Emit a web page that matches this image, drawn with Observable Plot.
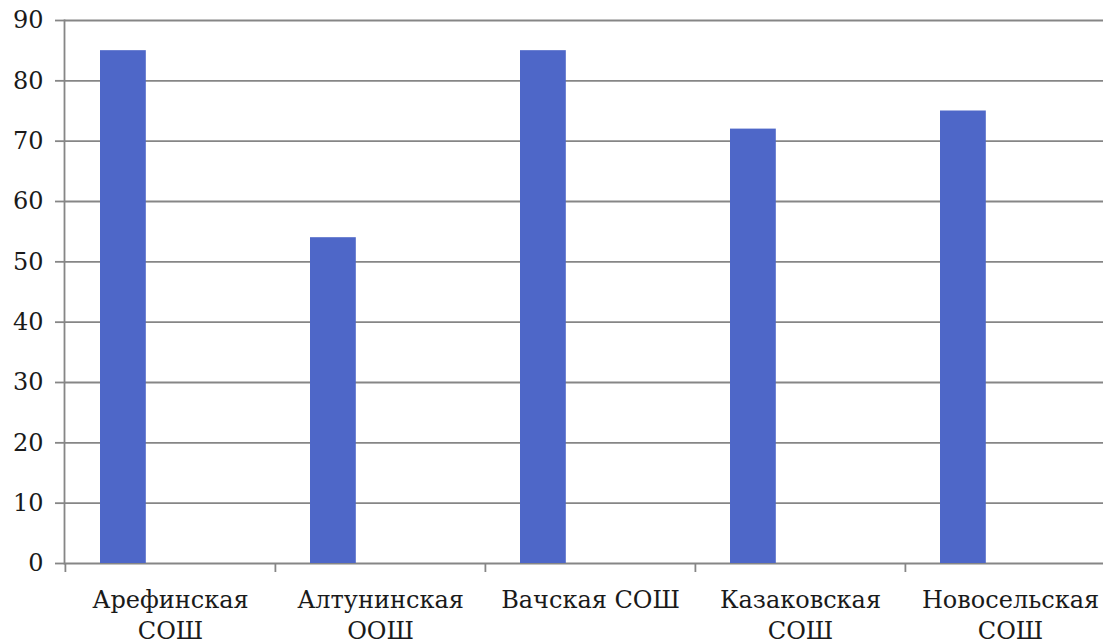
<!DOCTYPE html>
<html>
<head>
<meta charset="utf-8">
<script src="https://cdn.jsdelivr.net/npm/d3@7"></script>
<script src="https://cdn.jsdelivr.net/npm/@observablehq/plot@0.6"></script>
<style>
  html, body { margin: 0; padding: 0; background: #fff; overflow: hidden; }
</style>
</head>
<body>
<div id="chart"></div>
<script>
const schools = ["Арефинская\nСОШ", "Алтунинская\nООШ", "Вачская СОШ", "Казаковская\nСОШ", "Новосельская\nСОШ"];
const values = [85, 54, 85, 72, 75];
const yTicks = [0, 10, 20, 30, 40, 50, 60, 70, 80, 90];

const data = schools.map((s, i) => ({school: s, value: values[i]}));

const W = 1103, H = 642;
const left = 64, plotRight = 1115;
const band = (plotRight - left) / schools.length;
const gridColor = "#868686";
const font = "'DejaVu Serif', serif";

const chart = Plot.plot({
  width: W,
  height: H,
  marginTop: 20,
  marginBottom: 79,
  marginLeft: left,
  marginRight: 0,
  style: {fontFamily: font, fontSize: "24px", color: "#1a1a1a", background: "#fff", overflow: "visible"},
  x: {domain: schools, range: [left, plotRight], padding: 0},
  y: {domain: [0, 90]},
  marks: [
    Plot.gridY(yTicks, {stroke: gridColor, strokeWidth: 1.8, strokeOpacity: 1}),
    Plot.axisY({ticks: yTicks, tickSize: 9, tickPadding: 12, stroke: gridColor, strokeWidth: 1.8, strokeOpacity: 1, label: null}),
    Plot.frame({anchor: "left", stroke: gridColor, strokeWidth: 1.8}),
    Plot.barY(data, {x: "school", y: "value", fill: "#4e67c8", insetLeft: 35, insetRight: band - 81}),
    Plot.ruleX(schools, {x: d => d, dx: -band / 2, y1: 0, y2: 0, insetBottom: -9, stroke: gridColor, strokeWidth: 1.8}),
    Plot.axisX({tickSize: 0, tickPadding: 22, label: null, lineHeight: 1.3})
  ]
});
document.getElementById("chart").appendChild(chart);
</script>
</body>
</html>
